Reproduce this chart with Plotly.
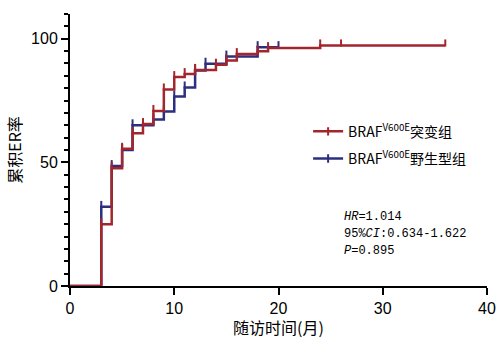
import plotly.graph_objects as go

# Data
mut_t = [0, 3, 4, 5, 6, 7, 8, 9, 10, 11, 12, 14, 15, 16, 18, 19, 24, 36]
mut_v = [0, 25, 47.6, 55.5, 61.8, 65.5, 70.8, 79.5, 84.5, 85.7, 87.4, 89.5, 91.2, 93.8, 94.9, 96.2, 97.3, 97.3]
wt_t = [0, 3, 4, 5, 6, 8, 9, 10, 11, 12, 13, 15, 18, 20]
wt_v = [0, 32, 48.5, 55, 65, 67.3, 70.6, 76.6, 80.3, 87.2, 89.9, 92.8, 96.6, 96.6]
mut_censor = [3, 4, 5, 6, 7, 8, 9, 10, 11, 12, 14, 15, 16, 18, 19, 24, 26, 36]
wt_censor = [3, 4, 5, 6, 8, 9, 10, 11, 12, 13, 15, 18, 20]

x_ticks = [0, 10, 20, 30, 40]
y_ticks = [0, 50, 100]
x_title = "随访时间(月)"
y_title = "累积ER率"
mut_name = "BRAF<sup>V600E</sup>突变组"
wt_name = "BRAF<sup>V600E</sup>野生型组"
stats = ["<i>HR</i>=1.014", "95%<i>CI</i>:0.634-1.622", "<i>P</i>=0.895"]

RED = "#a3262c"
BLUE = "#2c2f7f"


def level(ts, vs, c):
    v = vs[0]
    for t, val in zip(ts, vs):
        if t <= c:
            v = val
    return v


fig = go.Figure()
for ts, vs, cens, col in [(wt_t, wt_v, wt_censor, BLUE), (mut_t, mut_v, mut_censor, RED)]:
    fig.add_trace(go.Scatter(x=ts, y=vs, mode="lines", line=dict(color=col, width=2.5, shape="hv"),
                             showlegend=False, hoverinfo="skip"))
    fig.add_trace(go.Scatter(x=cens, y=[level(ts, vs, c) + 1.0 for c in cens], mode="markers",
                             marker=dict(symbol="line-ns-open", size=5, color=col,
                                         line=dict(color=col, width=2)),
                             showlegend=False, hoverinfo="skip", cliponaxis=False))

for name, col, grp in [(mut_name, RED, "a"), (wt_name, BLUE, "b")]:
    fig.add_trace(go.Scatter(x=[None], y=[None], mode="lines+markers", name=name, legendgroup=grp,
                             line=dict(color=col, width=2.5),
                             marker=dict(symbol="line-ns-open", size=6, color=col,
                                         line=dict(color=col, width=2))))

for i, s in enumerate(stats):
    fig.add_annotation(text=s, xref="paper", yref="paper", x=0.652, y=0.254 - i * 0.0625,
                       xanchor="left", yanchor="middle", showarrow=False, align="left",
                       font=dict(family="Liberation Mono, DejaVu Sans Mono", size=12, color="black"))

fig.add_annotation(text=x_title, xref="paper", yref="paper", x=0.5, y=-0.149,
                   xanchor="center", yanchor="middle", showarrow=False,
                   font=dict(family="Noto Sans CJK SC", size=16, color="black"))

fig.update_layout(
    width=498, height=338,
    margin=dict(l=70, r=11, t=14, b=52),
    paper_bgcolor="white", plot_bgcolor="white",
    font=dict(family="Liberation Sans, Arial, Noto Sans CJK SC", color="black"),
    legend=dict(x=0.571, y=0.626, xanchor="left", yanchor="top", bgcolor="rgba(0,0,0,0)",
                font=dict(family="Noto Sans CJK SC", size=14, color="black"), tracegroupgap=6,
                itemwidth=30),
    xaxis=dict(range=[0, 40], tickvals=x_ticks, showline=True, linecolor="black", linewidth=2,
               ticks="outside", ticklen=7, tickwidth=2, tickcolor="black", showgrid=False, zeroline=False,
               tickfont=dict(size=16, family="Liberation Sans, Arial"), automargin=False,
               layer="below traces"),
    yaxis=dict(range=[0, 110], tickvals=y_ticks, showline=True, linecolor="black", linewidth=2,
               ticks="outside", ticklen=7, tickwidth=2, tickcolor="black", showgrid=False, zeroline=False,
               tickfont=dict(size=16, family="Liberation Sans, Arial"), automargin=False,
               minor=dict(dtick=5, ticks="outside", ticklen=4, tickwidth=2, tickcolor="black", showgrid=False),
               title=dict(text=y_title, font=dict(family="Noto Sans CJK SC", size=16), standoff=5),
               layer="below traces"),
)

fig.write_html("out.html", config={"displayModeBar": False},
               post_script="document.body.style.margin='0';document.body.style.overflow='hidden';")
